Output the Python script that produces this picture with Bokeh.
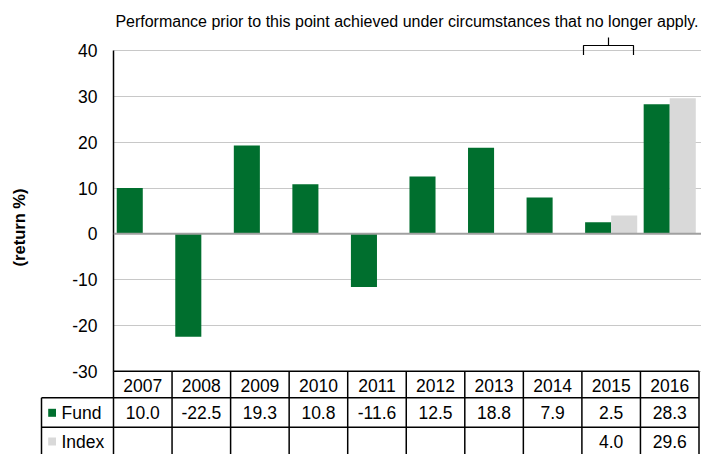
from bokeh.plotting import figure
from bokeh.models import Range1d, FixedTicker, Span, Label, ColumnDataSource
from bokeh.core.properties import value
from bokeh.embed import file_html
from bokeh.resources import INLINE

# ---- data ----
years = ["2007", "2008", "2009", "2010", "2011", "2012", "2013", "2014", "2015", "2016"]
fund = [10.0, -22.5, 19.3, 10.8, -11.6, 12.5, 18.8, 7.9, 2.5, 28.3]
index = [None, None, None, None, None, None, None, None, 4.0, 29.6]
y_ticks = [-30, -20, -10, 0, 10, 20, 30, 40]
series_names = ["Fund", "Index"]
note = "Performance prior to this point achieved under circumstances that no longer apply."

GREEN = "#006f2e"
GREY = "#d9d9d9"
FONT = "Liberation Sans"

# ---- layout (pixel positions inside the figure) ----
W, H = 701, 454
LEFT = 113            # frame left edge (y axis)
COL_END = 698.5       # right border of last column
px_x = (COL_END - LEFT) / 10.0
X_END = 9.5 + (W - COL_END) / px_x
Y40 = 50.1            # pixel row of y = 40
px_y = 4.58
y_top = 40 + Y40 / px_y
y_bot = 40 - (H - Y40) / px_y


def px2x(px):
    return -0.5 + (px - LEFT) / px_x


def px2y(py):
    return 40 - (py - Y40) / px_y


p = figure(width=W, height=H, output_backend="svg", toolbar_location=None,
           x_range=Range1d(-0.5, X_END), y_range=Range1d(y_bot, y_top),
           x_axis_location=None, min_border_left=LEFT, min_border_right=0,
           min_border_top=0, min_border_bottom=0)
p.outline_line_color = None
p.background_fill_color = "white"
p.border_fill_color = "white"

xs = list(range(len(years)))

# grid
p.xgrid.visible = False
p.ygrid.ticker = FixedTicker(ticks=y_ticks)
p.ygrid.grid_line_color = "#c8c8c8"
p.ygrid.grid_line_width = 1

# y axis
ax = p.yaxis[0]
ax.ticker = FixedTicker(ticks=y_ticks)
ax.major_label_overrides = {t: str(t) for t in y_ticks}
ax.bounds = (-30, 40)
ax.axis_line_color = "black"
ax.axis_line_width = 1.5
ax.major_tick_out = 0
ax.major_tick_in = 0
ax.minor_tick_out = 0
ax.minor_tick_in = 0
ax.major_label_standoff = 16
ax.major_label_text_font = FONT
ax.major_label_text_font_size = "17.5px"
ax.major_label_text_color = "black"
ax.axis_label = "(return %)"
ax.axis_label_text_font = FONT
ax.axis_label_text_font_style = "bold"
ax.axis_label_text_font_size = "16.5px"
ax.axis_label_text_color = "black"
ax.axis_label_standoff = 41

# bars
BW = 0.445
OFF = 0.2225
fsrc = ColumnDataSource(dict(x=[i - OFF for i in xs], top=fund))
p.vbar(x="x", top="top", bottom=0, width=BW, source=fsrc, fill_color=GREEN, line_color=None)
ix = [i + OFF for i, v in zip(xs, index) if v is not None]
iv = [v for v in index if v is not None]
p.vbar(x=ix, top=iv, bottom=0, width=BW, fill_color=GREY, line_color=None)

# zero line
p.add_layout(Span(location=0, dimension="width", line_color="#a0a0a0", line_width=2))

# ---- table below the plot ----
row_top = -30
row1_bot = px2y(397.3)
row2_bot = px2y(426.7)
row3_bot = y_bot - 5
lab_left = px2x(41)
yc_year = px2y(384.5)
yc_fund = px2y(412.3)
yc_index = px2y(441.0)

hx = [[-0.5, 9.5], [lab_left, 9.5], [lab_left, 9.5]]
hy = [[row_top, row_top], [row1_bot, row1_bot], [row2_bot, row2_bot]]
vx = [[i + 0.5, i + 0.5] for i in xs]
vy = [[row_top, row3_bot] for _ in xs]
vx += [[-0.5, -0.5], [lab_left, lab_left]]
vy += [[row_top, row3_bot], [row1_bot, row3_bot]]
p.multi_line(xs=hx + vx, ys=hy + vy, line_color="black", line_width=1.5, level="overlay")

p.text(x=xs, y=[yc_year] * len(xs), text=years, text_font=value(FONT),
       text_font_size="17.5px", text_align="center", text_baseline="middle", text_color="black")
p.text(x=xs, y=[yc_fund] * len(xs), text=[f"{v:.1f}" for v in fund], text_font=value(FONT),
       text_font_size="17.5px", text_align="center", text_baseline="middle", text_color="black")
p.text(x=[i for i, v in zip(xs, index) if v is not None], y=[yc_index] * len(iv),
       text=[f"{v:.1f}" for v in iv], text_font=value(FONT),
       text_font_size="17.5px", text_align="center", text_baseline="middle", text_color="black")

# legend keys in the label column
sq_l, sq_r = px2x(47.7), px2x(55.5)
half = 4 / px_y
p.quad(left=[sq_l, sq_l], right=[sq_r, sq_r],
       bottom=[yc_fund - half, yc_index - half], top=[yc_fund + half, yc_index + half],
       fill_color=[GREEN, GREY], line_color=None, level="overlay")
txt_x = px2x(61)
p.text(x=[txt_x, txt_x], y=[yc_fund, yc_index], text=series_names, text_font=value(FONT),
       text_font_size="17.5px", text_align="left", text_baseline="middle", text_color="black",
       level="overlay")

# ---- note and brace ----
p.add_layout(Label(x=px2x(698), y=px2y(21), text=note,
                   text_font=FONT, text_font_size="16px", text_align="right",
                   text_baseline="middle", text_color="black"))
b_l, b_r, b_c = px2x(583), px2x(633), px2x(608)
b_lo, b_mid, b_hi = px2y(54.5), px2y(45), px2y(37)
p.multi_line(xs=[[b_l, b_l, b_r, b_r], [b_c, b_c]], ys=[[b_lo, b_mid, b_mid, b_lo], [b_mid, b_hi]],
             line_color="black", line_width=1.2)

open("out.html", "w").write(file_html(p, INLINE))
